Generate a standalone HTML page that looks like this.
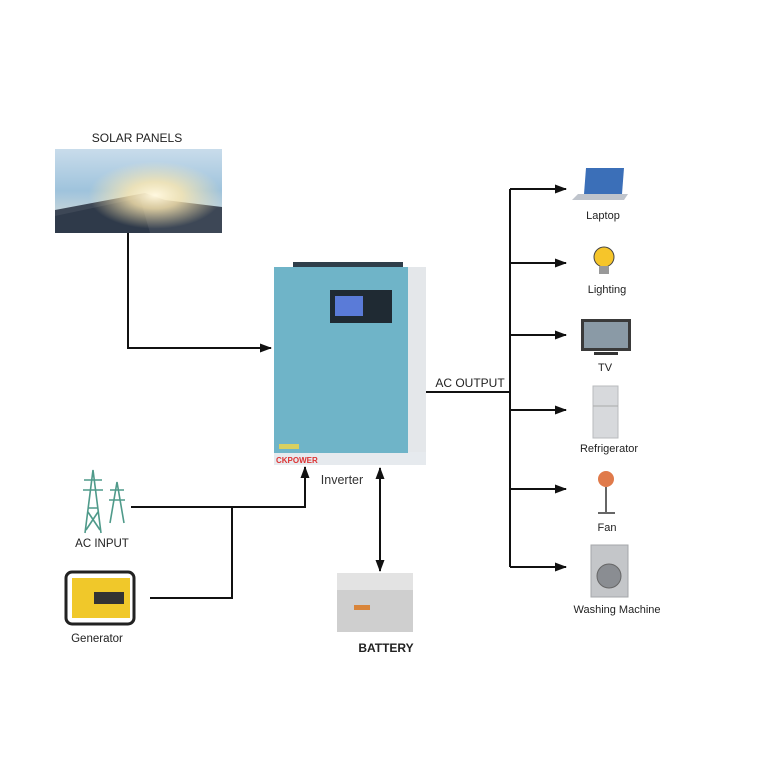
<!DOCTYPE html>
<html><head><meta charset="utf-8"><style>
html,body{margin:0;padding:0;background:#fff}
svg{display:block}
text{font-family:"Liberation Sans",sans-serif;fill:#222}
</style></head><body>
<svg width="768" height="768" viewBox="0 0 768 768" xmlns="http://www.w3.org/2000/svg">
<defs>
<marker id="ah" markerWidth="12" markerHeight="12" refX="11" refY="6" orient="auto" markerUnits="userSpaceOnUse">
<path d="M0,1.5 L12,6 L0,10.5 Z" fill="#111"/></marker>
<marker id="ahs" markerWidth="12" markerHeight="12" refX="11" refY="6" orient="auto-start-reverse" markerUnits="userSpaceOnUse">
<path d="M0,1.5 L12,6 L0,10.5 Z" fill="#111"/></marker>
<linearGradient id="sky" x1="0" y1="0" x2="0" y2="1">
<stop offset="0" stop-color="#c9dceb"/><stop offset="0.5" stop-color="#9fc3dc"/><stop offset="1" stop-color="#e8e4d8"/></linearGradient>
<radialGradient id="sun" cx="0.6" cy="0.55" r="0.4">
<stop offset="0" stop-color="#fff8e0"/><stop offset="0.4" stop-color="#fde8b0" stop-opacity="0.8"/><stop offset="1" stop-color="#fde8b0" stop-opacity="0"/></radialGradient>
</defs>

<!-- Solar panels -->
<text x="137" y="142" font-size="12" text-anchor="middle">SOLAR PANELS</text>
<rect x="55" y="149" width="167" height="84" fill="url(#sky)"/>
<polygon points="55,210 145,193 165,200 222,207 222,233 55,233" fill="#3d4756"/>
<polygon points="55,216 140,198 150,233 55,233" fill="#2f3a4a"/>
<rect x="55" y="149" width="167" height="84" fill="url(#sun)"/>

<path d="M128,233 V348 H271" fill="none" stroke="#111" stroke-width="2" marker-end="url(#ah)"/>

<!-- Inverter -->
<rect x="293" y="262" width="110" height="6" fill="#2f3e4a"/>
<rect x="407" y="267" width="19" height="198" fill="#e4e7ea"/>
<rect x="274" y="452" width="152" height="13" fill="#e6eaee"/>
<rect x="274" y="267" width="134" height="186" fill="#6fb4c8"/>
<rect x="330" y="290" width="62" height="33" fill="#1f2a33"/>
<rect x="335" y="296" width="28" height="20" fill="#5a7bd8"/>
<rect x="279" y="444" width="20" height="5" fill="#d8d060"/>
<text x="276" y="463" font-size="8" font-weight="bold" style="fill:#d33">CKPOWER</text>
<text x="342" y="484" font-size="12.5" text-anchor="middle" style="fill:#333">Inverter</text>

<!-- AC Output -->
<text x="470" y="387" font-size="12" text-anchor="middle">AC OUTPUT</text>
<path d="M426,392 H510" stroke="#111" stroke-width="2"/>
<path d="M510,189 V567" stroke="#111" stroke-width="2"/>
<g stroke="#111" stroke-width="2" fill="none">
<path d="M510,189 H566" marker-end="url(#ah)"/>
<path d="M510,263 H566" marker-end="url(#ah)"/>
<path d="M510,335 H566" marker-end="url(#ah)"/>
<path d="M510,410 H566" marker-end="url(#ah)"/>
<path d="M510,489 H566" marker-end="url(#ah)"/>
<path d="M510,567 H566" marker-end="url(#ah)"/>
</g>

<!-- Laptop -->
<polygon points="586,168 624,168 622,194 584,194" fill="#3b6fb8"/>
<polygon points="578,194 628,194 624,200 572,200" fill="#bfc4cc"/>
<text x="603" y="219" font-size="11" text-anchor="middle">Laptop</text>
<!-- Lighting -->
<circle cx="604" cy="257" r="10" fill="#f6c52a" stroke="#444"/>
<rect x="599" y="266" width="10" height="8" fill="#999"/>
<text x="607" y="293" font-size="11" text-anchor="middle">Lighting</text>
<!-- TV -->
<rect x="581" y="319" width="50" height="32" fill="#3a3a3a"/>
<rect x="584" y="322" width="44" height="26" fill="#8a9aa6"/>
<rect x="594" y="352" width="24" height="3" fill="#333"/>
<text x="605" y="371" font-size="11" text-anchor="middle">TV</text>
<!-- Fridge -->
<rect x="593" y="386" width="25" height="52" fill="#d7d9dc" stroke="#b8bbbe"/>
<line x1="593" y1="406" x2="618" y2="406" stroke="#aaa"/>
<text x="609" y="452" font-size="11" text-anchor="middle">Refrigerator</text>
<!-- Fan -->
<circle cx="606" cy="479" r="8" fill="#e07a4a"/>
<line x1="606" y1="487" x2="606" y2="512" stroke="#666" stroke-width="2"/>
<line x1="598" y1="513" x2="615" y2="513" stroke="#666" stroke-width="2"/>
<text x="607" y="531" font-size="11" text-anchor="middle">Fan</text>
<!-- Washer -->
<rect x="591" y="545" width="37" height="52" fill="#c4c6c9" stroke="#a5a7aa"/>
<circle cx="609" cy="576" r="12" fill="#8a8d92" stroke="#666"/>
<text x="617" y="613" font-size="11" text-anchor="middle">Washing Machine</text>

<!-- AC input towers -->
<g stroke="#4f9a8a" stroke-width="1.6" fill="none">
<path d="M85,533 L93,470 L101,533 M88,508 H98 M84,480 H102 M83,490 H103 M88,512 L100,530 M98,512 L86,530"/>
<path d="M110,523 L117,482 L124,523 M110,490 H124 M109,500 H125"/>
</g>
<text x="102" y="547" font-size="11.5" text-anchor="middle">AC INPUT</text>

<!-- Generator -->
<rect x="66" y="572" width="68" height="52" rx="6" fill="none" stroke="#222" stroke-width="3"/>
<rect x="72" y="578" width="58" height="40" fill="#f0c82a"/>
<rect x="94" y="592" width="30" height="12" fill="#333"/>
<text x="97" y="642" font-size="11.5" text-anchor="middle">Generator</text>

<g stroke="#111" stroke-width="2" fill="none">
<path d="M131,507 H305 V467" marker-end="url(#ah)"/>
<path d="M150,598 H232 V507"/>
<path d="M380,468 V571" marker-start="url(#ahs)" marker-end="url(#ahs)"/>
</g>

<!-- Battery -->
<rect x="337" y="573" width="76" height="18" fill="#e3e3e3"/>
<rect x="337" y="590" width="76" height="42" fill="#cfcfcf"/>
<rect x="354" y="605" width="16" height="5" fill="#d9853a"/>
<text x="386" y="652" font-size="12" font-weight="bold" text-anchor="middle">BATTERY</text>
</svg>
</body></html>
